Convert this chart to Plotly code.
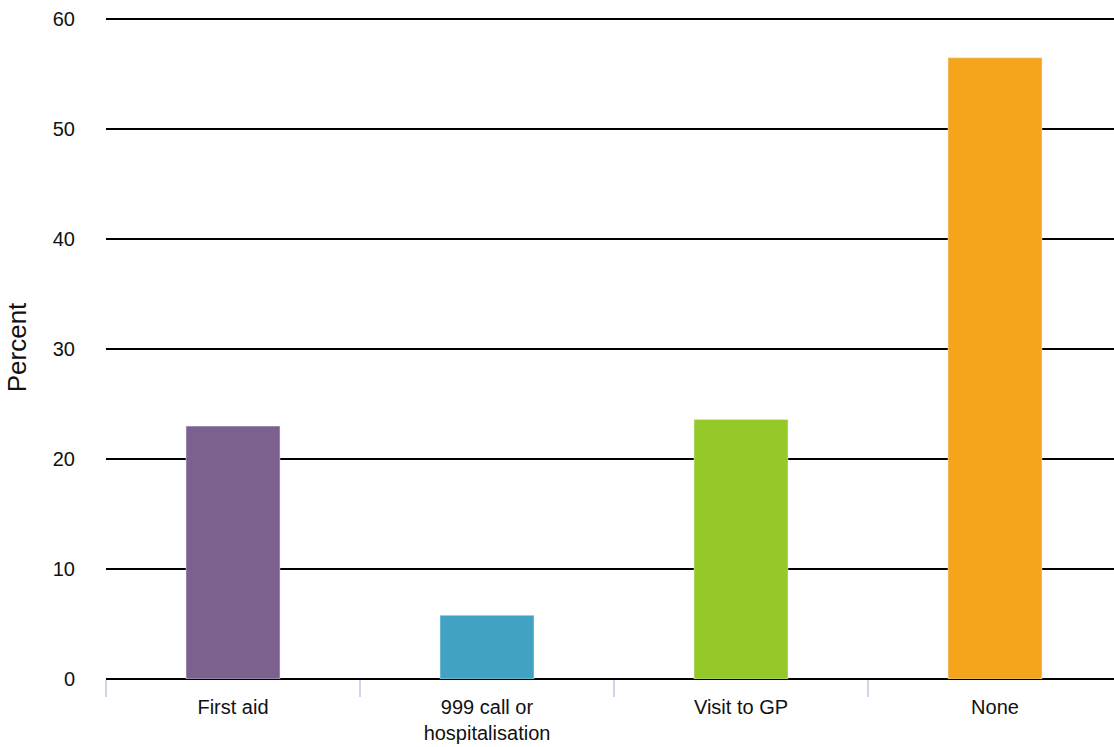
import plotly.graph_objects as go

categories = ["First aid", "999 call or<br>hospitalisation", "Visit to GP", "None"]
values = [23.0, 5.8, 23.6, 56.5]
colors = ["#7c618e", "#41a2c2", "#95c928", "#f4a51b"]
y_ticks = [0, 10, 20, 30, 40, 50, 60]

fig = go.Figure(go.Bar(x=categories, y=values, marker_color=colors, width=0.37))

fig.update_layout(
    width=1122, height=747,
    margin=dict(l=106, r=0, t=15.7, b=68, autoexpand=False),
    plot_bgcolor="white", paper_bgcolor="white",
    font=dict(family="Liberation Sans, Arial, sans-serif", size=20, color="#111111"),
    showlegend=False,
)
fig.update_xaxes(
    type="category", tickson="boundaries", ticks="outside", ticklen=17,
    tickcolor="#cdd6ea", tickwidth=2, showgrid=False, showline=False,
    tickfont=dict(size=20), ticklabelstandoff=14,
)
fig.update_yaxes(
    range=[0, 60.3], tickvals=y_ticks, showgrid=True, gridcolor="black", gridwidth=1.7,
    zeroline=True, zerolinecolor="black", zerolinewidth=2.2,
    ticks="", ticklabelstandoff=30,
    title=dict(text="Percent", font=dict(size=26), standoff=18),
    tickfont=dict(size=20),
)

fig.write_html(
    "out.html",
    config={"displayModeBar": False},
    post_script="document.body.style.margin='0';document.body.style.overflow='hidden';",
)
